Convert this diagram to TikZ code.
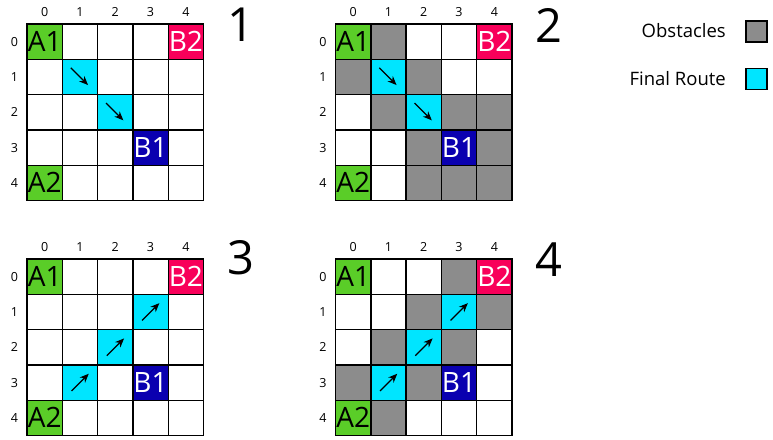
\documentclass[tikz,border=0pt]{standalone}
\usepackage{fontspec}
\setmainfont{Open Sans}
\usetikzlibrary{arrows.meta,positioning,calc}

\definecolor{agentgreen}{HTML}{5ACD28}
\definecolor{agentpink}{HTML}{F8005A}
\definecolor{agentblue}{HTML}{0A00B0}
\definecolor{routecyan}{HTML}{00E5FF}
\definecolor{obstgray}{HTML}{8C8C8C}

\def\cellsz{35.3}

\tikzset{
  cell/.style={draw, line width=1.4pt, minimum size=\cellsz pt, inner sep=0pt, fill=white},
  obst/.style={cell, fill=obstgray},
  route/.style={cell, fill=routecyan},
  agentA/.style={cell, fill=agentgreen, font=\fontsize{28}{28}\selectfont},
  agentB1/.style={cell, fill=agentblue, text=white, font=\fontsize{28}{28}\selectfont},
  agentB2/.style={cell, fill=agentpink, text=white, font=\fontsize{28}{28}\selectfont},
  idx/.style={font=\fontsize{12.5}{12.5}\selectfont, inner sep=0pt},
  bignum/.style={font=\fontsize{47}{47}\selectfont, inner sep=0pt},
  legtext/.style={font=\fontsize{18.5}{18.5}\selectfont, inner sep=0pt, anchor=east},
  legbox/.style={draw, line width=1.2pt, minimum size=21pt, inner sep=0pt},
  move/.style={->, line width=1.1pt},
}

% empty 5x5 board with row and column numbers
\newcommand{\basegrid}[1]{%
  \foreach \r in {0,...,4}
    \foreach \c in {0,...,4}
      \node[cell] (#1-\r-\c) at ({(\c+0.5)*\cellsz},{(\r+0.5)*\cellsz}) {};
  \foreach \c in {0,...,4}
    \node[idx] (#1-col\c) at ({(\c+0.5)*\cellsz},-12) {\c};
  \foreach \r in {0,...,4}
    \node[idx] (#1-row\r) at (-12.5,{(\r+0.5)*\cellsz}) {\r};
  \node[agentA] (#1-A1) at (#1-0-0) {A1};
  \node[agentA] (#1-A2) at (#1-4-0) {A2};
  \node[agentB2] (#1-B2) at (#1-0-4) {B2};
  \node[agentB1] (#1-B1) at (#1-3-3) {B1};
}

\begin{document}
\begin{tikzpicture}[x=1pt, y=-1pt, >={Stealth[length=9pt,width=7.5pt]}]
  \useasboundingbox (0,0) rectangle (773,439);

  % panel 1
  \begin{scope}[shift={(27,24)}]
    \basegrid{p1}
    \foreach \r/\c in {1/1,2/2}
      \node[route] (p1-r\r) at (p1-\r-\c) {};
    \foreach \r in {1,2}
      \draw[move] ($(p1-r\r.north west)!0.25!(p1-r\r.south east)$)
        -- ($(p1-r\r.north west)!0.72!(p1-r\r.south east)$);
  \end{scope}
  \node[bignum] (n1) at (241,25) {1};

  % panel 2
  \begin{scope}[shift={(335.5,24)}]
    \basegrid{p2}
    \foreach \r/\c in {0/1,1/0,1/2,2/1,2/3,2/4,3/2,3/4,4/2,4/3,4/4}
      \node[obst] (p2-o\r\c) at (p2-\r-\c) {};
    \foreach \r/\c in {1/1,2/2}
      \node[route] (p2-r\r) at (p2-\r-\c) {};
    \foreach \r in {1,2}
      \draw[move] ($(p2-r\r.north west)!0.25!(p2-r\r.south east)$)
        -- ($(p2-r\r.north west)!0.72!(p2-r\r.south east)$);
  \end{scope}
  \node[bignum] (n2) at (549,25) {2};

  % panel 3
  \begin{scope}[shift={(27,259)}]
    \basegrid{p3}
    \foreach \r/\c in {3/1,2/2,1/3}
      \node[route] (p3-r\r) at (p3-\r-\c) {};
    \foreach \r in {1,2,3}
      \draw[move] ($(p3-r\r.south west)!0.27!(p3-r\r.north east)$)
        -- ($(p3-r\r.south west)!0.74!(p3-r\r.north east)$);
  \end{scope}
  \node[bignum] (n3) at (241,258) {3};

  % panel 4
  \begin{scope}[shift={(335.5,259)}]
    \basegrid{p4}
    \foreach \r/\c in {0/3,1/2,1/4,2/1,2/3,3/0,3/2,4/1}
      \node[obst] (p4-o\r\c) at (p4-\r-\c) {};
    \foreach \r/\c in {3/1,2/2,1/3}
      \node[route] (p4-r\r) at (p4-\r-\c) {};
    \foreach \r in {1,2,3}
      \draw[move] ($(p4-r\r.south west)!0.27!(p4-r\r.north east)$)
        -- ($(p4-r\r.south west)!0.74!(p4-r\r.north east)$);
  \end{scope}
  \node[bignum] (n4) at (549,260) {4};

  % legend
  \node[legbox, fill=obstgray] (legobst) at (756.5,31.5) {};
  \node[legtext] (legobsttext) at (726,31) {Obstacles};
  \node[legbox, fill=routecyan] (legroute) at (756.5,79) {};
  \node[legtext] (legroutetext) at (726,79) {Final Route};
\end{tikzpicture}
\end{document}
